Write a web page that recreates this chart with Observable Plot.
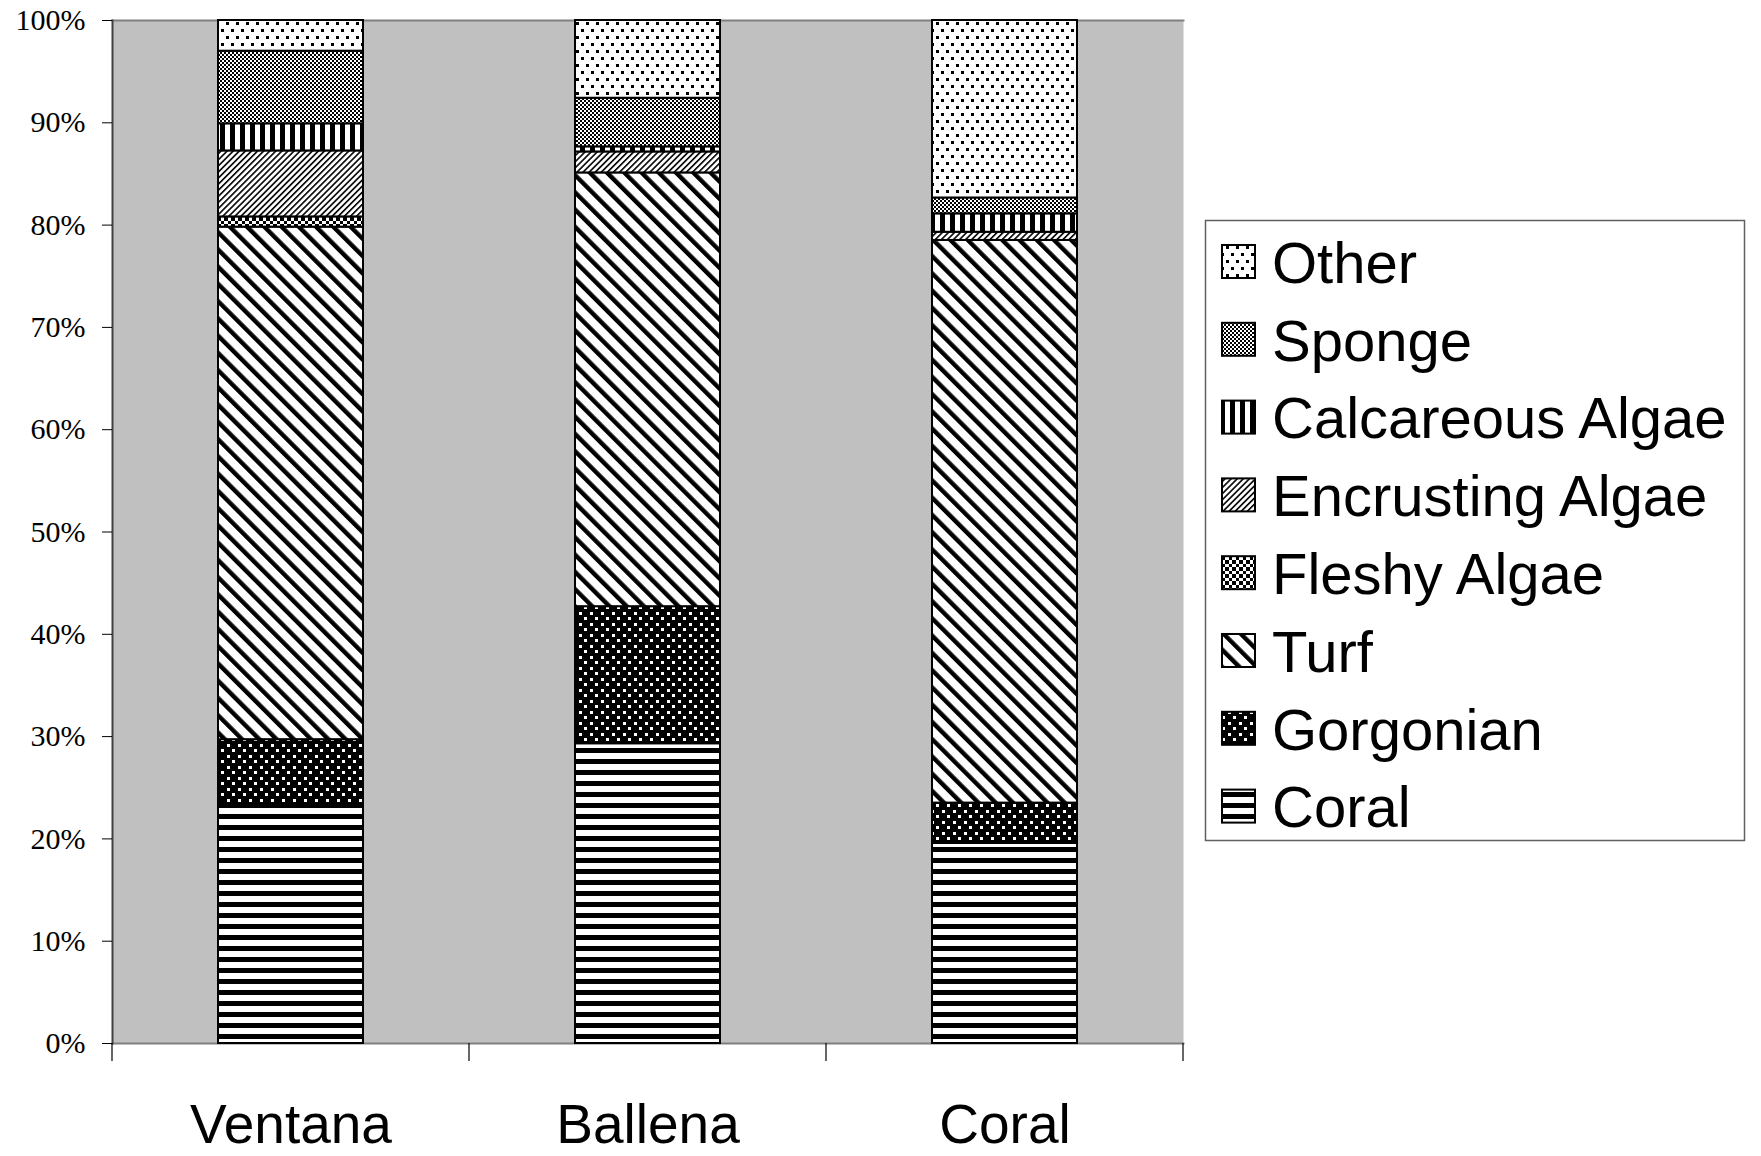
<!DOCTYPE html>
<html><head><meta charset="utf-8">
<script src="https://cdn.jsdelivr.net/npm/d3@7"></script>
<script src="https://cdn.jsdelivr.net/npm/@observablehq/plot@0.6"></script>
<style>
body{margin:0;background:#fff;}
#chart{position:relative;width:1761px;height:1156px;}
</style>
</head><body><div id="chart"></div>
<script>
// ---- data (percent of cover) ----
const sites = ["Ventana", "Ballena", "Coral"];
const categories = ["Coral", "Gorgonian", "Turf", "Fleshy Algae", "Encrusting Algae", "Calcareous Algae", "Sponge", "Other"];
const coral           = [23.4, 29.3, 19.55];
const gorgonian       = [6.3, 13.4, 3.95];
const turf            = [50.1, 42.4, 55.0];
const fleshyAlgae     = [1.0, 0, 0];
const encrustingAlgae = [6.45, 2.05, 0.8];
const calcareousAlgae = [2.65, 0.5, 1.8];
const sponge          = [7.1, 4.75, 1.55];
const other           = [3.0, 7.6, 17.35];
const yTicks = [0, 0.1, 0.2, 0.3, 0.4, 0.5, 0.6, 0.7, 0.8, 0.9, 1.0];
const yTickLabels = ["0%", "10%", "20%", "30%", "40%", "50%", "60%", "70%", "80%", "90%", "100%"];

const series = [coral, gorgonian, turf, fleshyAlgae, encrustingAlgae, calcareousAlgae, sponge, other];
const patternIds = ["p-coral", "p-gorg", "p-turf", "p-fleshy", "p-encr", "p-calc", "p-sponge", "p-other"];
const data = [];
sites.forEach((s, i) => categories.forEach((c, k) => data.push({site: s, category: c, value: series[k][i]})));

const W = 1761, H = 1156;
const plot = Plot.plot({
  width: W, height: H,
  marginLeft: 112, marginRight: 578, marginTop: 20, marginBottom: 113,
  style: {background: "white", color: "black", fontFamily: "Liberation Sans"},
  x: {domain: sites, paddingInner: 0.594, paddingOuter: 0.297, label: null},
  y: {domain: [0, 1], label: null},
  color: {type: "ordinal", domain: categories, range: patternIds.map(id => `url(#${id})`)},
  marks: [
    Plot.frame({fill: "#c0c0c0", stroke: "none"}),
    Plot.frame({anchor: "top", stroke: "#808080", strokeWidth: 2}),
    Plot.frame({anchor: "bottom", stroke: "#808080", strokeWidth: 2}),
    Plot.barY(data, Plot.stackY({offset: "normalize", order: null}, {
      x: "site", y: "value", fill: "category", stroke: "black", strokeWidth: 2
    })),
    Plot.frame({anchor: "left", stroke: "#404040", strokeWidth: 2}),
    Plot.axisY({ticks: yTicks, tickFormat: (d) => yTickLabels[yTicks.indexOf(d)], tickSize: 10, tickPadding: 17,
      fontSize: 30, fontFamily: "Liberation Serif", label: null}),
    Plot.axisX({tickSize: 0, tickPadding: 60, fontSize: 55, fontFamily: "Liberation Sans", label: null})
  ]
});

const svg = d3.select(plot);
const defs = svg.insert("defs", ":first-child");
function pat(id, w, h, transform) {
  const p = defs.append("pattern").attr("id", id).attr("patternUnits", "userSpaceOnUse")
    .attr("width", w).attr("height", h);
  if (transform) p.attr("patternTransform", transform);
  return p;
}
function rect(p, x, y, w, h, fill) {
  p.append("rect").attr("x", x).attr("y", y).attr("width", w).attr("height", h).attr("fill", fill)
    .attr("shape-rendering", "crispEdges");
}
// Coral: horizontal stripes
let p = pat("p-coral", 11, 11); rect(p, 0, 0, 11, 11, "white"); rect(p, 0, 0, 11, 5, "black");
// Gorgonian: black with white dots
p = pat("p-gorg", 11, 11); rect(p, 0, 0, 11, 11, "black"); rect(p, 1, 1, 3, 3, "white"); rect(p, 6.5, 6.5, 3, 3, "white");
// Turf: wide "\" diagonal
p = pat("p-turf", 12.2, 12.2, "rotate(-45)"); rect(p, 0, 0, 12.2, 12.2, "white"); p.append("rect").attr("x", 0).attr("y", 0).attr("width", 4.4).attr("height", 12.2).attr("fill", "black");
// Fleshy: checkerboard
p = pat("p-fleshy", 7, 7); rect(p, 0, 0, 7, 7, "white"); rect(p, 0, 0, 3.5, 3.5, "black"); rect(p, 3.5, 3.5, 3.5, 3.5, "black");
// Encrusting: thin "/" diagonal
p = pat("p-encr", 4.3, 4.3, "rotate(45)"); rect(p, 0, 0, 4.3, 4.3, "white"); p.append("rect").attr("x", 0).attr("y", 0).attr("width", 1.6).attr("height", 4.3).attr("fill", "black");
// Calcareous: vertical stripes
p = pat("p-calc", 10, 10); rect(p, 0, 0, 10, 10, "white"); rect(p, 0, 0, 5, 10, "black");
// Sponge: fine checker
p = pat("p-sponge", 4, 4); rect(p, 0, 0, 4, 4, "white"); rect(p, 0, 0, 2, 2, "black"); rect(p, 2, 2, 2, 2, "black");
// Other: sparse dots
p = pat("p-other", 10, 14); rect(p, 0, 0, 10, 14, "white"); rect(p, 1, 1, 2.5, 2.5, "black"); rect(p, 6, 8, 2.5, 2.5, "black");

// category separators on the x axis (band boundaries from the x scale)
const xs = plot.scale("x"), ys = plot.scale("y");
const y0 = ys.apply(0);
const bounds = sites.map(s => xs.apply(s) + xs.bandwidth / 2 - xs.step / 2);
bounds.push(xs.apply(sites[sites.length - 1]) + xs.bandwidth / 2 + xs.step / 2);
svg.append("g").selectAll("line").data(bounds).join("line")
  .attr("x1", d => d).attr("x2", d => d).attr("y1", y0).attr("y2", y0 + 18)
  .attr("stroke", "black").attr("stroke-width", 1.2);

// legend
const lg = svg.append("g").attr("font-family", "Liberation Sans").attr("font-size", 58).attr("text-anchor", "start");
lg.append("rect").attr("x", 1205.5).attr("y", 220.5).attr("width", 539).attr("height", 620)
  .attr("fill", "white").attr("stroke", "#606060").attr("stroke-width", 1.5);
const legendOrder = categories.slice().reverse();
legendOrder.forEach((c, i) => {
  const cy = 262 + i * 77.8;
  const k = categories.indexOf(c);
  lg.append("rect").attr("x", 1222).attr("y", cy - 17).attr("width", 33).attr("height", 33)
    .attr("fill", `url(#${patternIds[k]})`).attr("stroke", "black").attr("stroke-width", 2);
  lg.append("text").attr("x", 1272).attr("y", cy).attr("dy", "0.36em").attr("text-anchor", "start").text(c);
});

document.getElementById("chart").appendChild(plot);
</script>
</body></html>
